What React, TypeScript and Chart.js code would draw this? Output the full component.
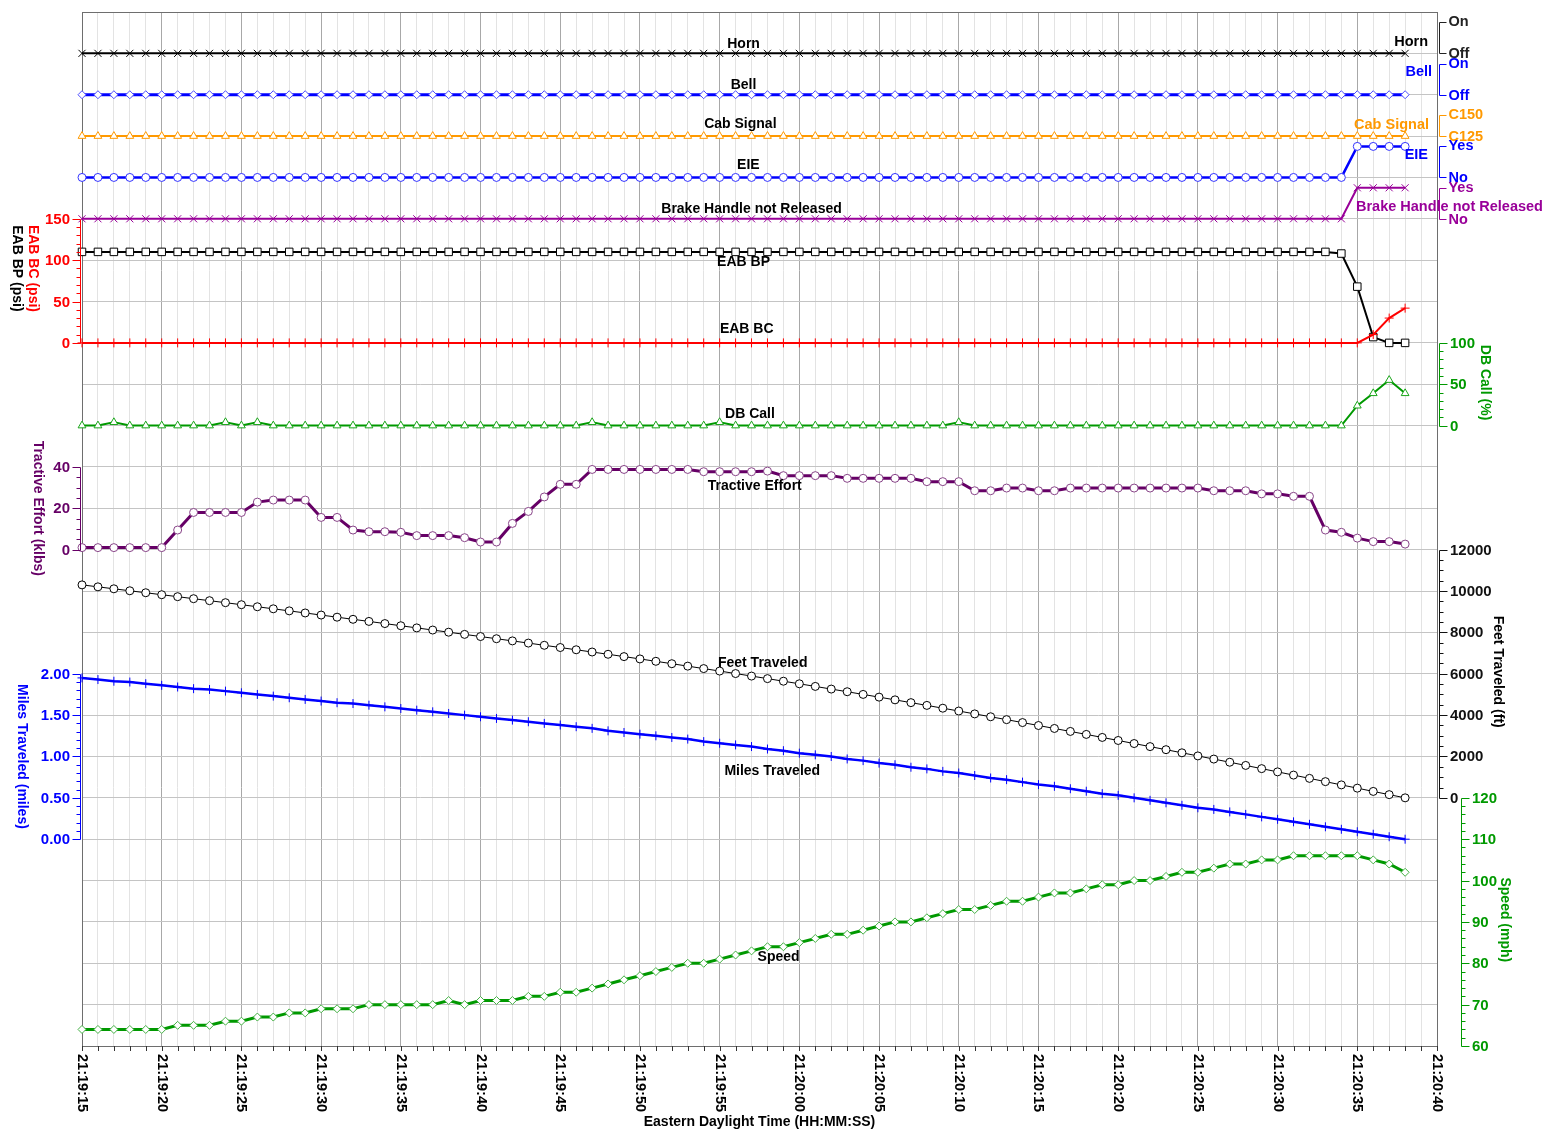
import React, { useEffect, useRef } from "react";
import { Chart, registerables } from "chart.js";

Chart.register(...registerables);

// ---------------- time axis ----------------
const START_TIME = "21:19:15";
const END_TIME = "21:20:40";
const xTickLabels = [
  "21:19:15", "21:19:20", "21:19:25", "21:19:30", "21:19:35", "21:19:40",
  "21:19:45", "21:19:50", "21:19:55", "21:20:00", "21:20:05", "21:20:10",
  "21:20:15", "21:20:20", "21:20:25", "21:20:30", "21:20:35", "21:20:40",
];
const toSec = (t: string) => { const [h, m, s] = t.split(":").map(Number); return h * 3600 + m * 60 + s; };
const pad = (n: number) => String(n).padStart(2, "0");
const fmt = (sec: number) => `${pad(Math.floor(sec / 3600))}:${pad(Math.floor((sec % 3600) / 60))}:${pad(sec % 60)}`;
const timeCategories: string[] = [];
for (let t = toSec(START_TIME); t <= toSec(END_TIME); t++) timeCategories.push(fmt(t));

// ---------------- series (one value per second from 21:19:15 to 21:20:38) ----------------
const horn = [
  0, 0, 0, 0, 0, 0, 0, 0, 0, 0,
  0, 0, 0, 0, 0, 0, 0, 0, 0, 0,
  0, 0, 0, 0, 0, 0, 0, 0, 0, 0,
  0, 0, 0, 0, 0, 0, 0, 0, 0, 0,
  0, 0, 0, 0, 0, 0, 0, 0, 0, 0,
  0, 0, 0, 0, 0, 0, 0, 0, 0, 0,
  0, 0, 0, 0, 0, 0, 0, 0, 0, 0,
  0, 0, 0, 0, 0, 0, 0, 0, 0, 0,
  0, 0, 0, 0,
];
const bell = [
  0, 0, 0, 0, 0, 0, 0, 0, 0, 0,
  0, 0, 0, 0, 0, 0, 0, 0, 0, 0,
  0, 0, 0, 0, 0, 0, 0, 0, 0, 0,
  0, 0, 0, 0, 0, 0, 0, 0, 0, 0,
  0, 0, 0, 0, 0, 0, 0, 0, 0, 0,
  0, 0, 0, 0, 0, 0, 0, 0, 0, 0,
  0, 0, 0, 0, 0, 0, 0, 0, 0, 0,
  0, 0, 0, 0, 0, 0, 0, 0, 0, 0,
  0, 0, 0, 0,
];
const cabSignal = [
  125, 125, 125, 125, 125, 125, 125, 125, 125, 125,
  125, 125, 125, 125, 125, 125, 125, 125, 125, 125,
  125, 125, 125, 125, 125, 125, 125, 125, 125, 125,
  125, 125, 125, 125, 125, 125, 125, 125, 125, 125,
  125, 125, 125, 125, 125, 125, 125, 125, 125, 125,
  125, 125, 125, 125, 125, 125, 125, 125, 125, 125,
  125, 125, 125, 125, 125, 125, 125, 125, 125, 125,
  125, 125, 125, 125, 125, 125, 125, 125, 125, 125,
  125, 125, 125, 125,
];
const eie = [
  0, 0, 0, 0, 0, 0, 0, 0, 0, 0,
  0, 0, 0, 0, 0, 0, 0, 0, 0, 0,
  0, 0, 0, 0, 0, 0, 0, 0, 0, 0,
  0, 0, 0, 0, 0, 0, 0, 0, 0, 0,
  0, 0, 0, 0, 0, 0, 0, 0, 0, 0,
  0, 0, 0, 0, 0, 0, 0, 0, 0, 0,
  0, 0, 0, 0, 0, 0, 0, 0, 0, 0,
  0, 0, 0, 0, 0, 0, 0, 0, 0, 0,
  1, 1, 1, 1,
];
const brakeHandle = [
  0, 0, 0, 0, 0, 0, 0, 0, 0, 0,
  0, 0, 0, 0, 0, 0, 0, 0, 0, 0,
  0, 0, 0, 0, 0, 0, 0, 0, 0, 0,
  0, 0, 0, 0, 0, 0, 0, 0, 0, 0,
  0, 0, 0, 0, 0, 0, 0, 0, 0, 0,
  0, 0, 0, 0, 0, 0, 0, 0, 0, 0,
  0, 0, 0, 0, 0, 0, 0, 0, 0, 0,
  0, 0, 0, 0, 0, 0, 0, 0, 0, 0,
  1, 1, 1, 1,
];
const eabBP = [
  110, 110, 110, 110, 110, 110, 110, 110, 110, 110,
  110, 110, 110, 110, 110, 110, 110, 110, 110, 110,
  110, 110, 110, 110, 110, 110, 110, 110, 110, 110,
  110, 110, 110, 110, 110, 110, 110, 110, 110, 110,
  110, 110, 110, 110, 110, 110, 110, 110, 110, 110,
  110, 110, 110, 110, 110, 110, 110, 110, 110, 110,
  110, 110, 110, 110, 110, 110, 110, 110, 110, 110,
  110, 110, 110, 110, 110, 110, 110, 110, 110, 108,
  68, 7, 0, 0,
];
const eabBC = [
  0, 0, 0, 0, 0, 0, 0, 0, 0, 0,
  0, 0, 0, 0, 0, 0, 0, 0, 0, 0,
  0, 0, 0, 0, 0, 0, 0, 0, 0, 0,
  0, 0, 0, 0, 0, 0, 0, 0, 0, 0,
  0, 0, 0, 0, 0, 0, 0, 0, 0, 0,
  0, 0, 0, 0, 0, 0, 0, 0, 0, 0,
  0, 0, 0, 0, 0, 0, 0, 0, 0, 0,
  0, 0, 0, 0, 0, 0, 0, 0, 0, 0,
  0, 10, 30, 42,
];
const dbCall = [
  0, 0, 4, 0, 0, 0, 0, 0, 0, 4,
  0, 4, 0, 0, 0, 0, 0, 0, 0, 0,
  0, 0, 0, 0, 0, 0, 0, 0, 0, 0,
  0, 0, 4, 0, 0, 0, 0, 0, 0, 0,
  4, 0, 0, 0, 0, 0, 0, 0, 0, 0,
  0, 0, 0, 0, 0, 4, 0, 0, 0, 0,
  0, 0, 0, 0, 0, 0, 0, 0, 0, 0,
  0, 0, 0, 0, 0, 0, 0, 0, 0, 0,
  24, 39, 55, 39,
];
const tractiveEffort = [
  1, 1, 1, 1, 1, 1, 9.5, 18, 18, 18,
  18, 23, 24, 24, 24, 15.6, 15.6, 9.5, 8.7, 8.7,
  8.4, 6.8, 6.8, 6.8, 5.8, 3.7, 3.7, 12.7, 18.5, 25.5,
  31.6, 31.6, 38.8, 38.8, 38.8, 38.8, 38.8, 38.8, 38.8, 37.7,
  37.7, 37.7, 37.7, 38, 35.8, 35.8, 35.8, 35.8, 34.5, 34.5,
  34.5, 34.5, 34.5, 32.9, 32.9, 32.9, 28.5, 28.5, 29.8, 29.8,
  28.5, 28.5, 29.8, 29.8, 29.8, 29.8, 29.8, 29.8, 29.8, 29.8,
  29.8, 28.5, 28.5, 28.5, 27, 27, 25.8, 25.8, 9.5, 8.4,
  5.6, 3.9, 3.9, 2.7,
];
const feetTraveled = [
  10298, 10203, 10108, 10013, 9918, 9822, 9727, 9630, 9534, 9437,
  9339, 9240, 9141, 9041, 8940, 8839, 8736, 8633, 8531, 8427,
  8322, 8218, 8114, 8010, 7904, 7800, 7694, 7589, 7483, 7376,
  7269, 7160, 7052, 6942, 6830, 6717, 6602, 6486, 6369, 6250,
  6131, 6010, 5888, 5765, 5640, 5515, 5388, 5260, 5131, 5001,
  4870, 4738, 4604, 4470, 4335, 4198, 4059, 3921, 3781, 3640,
  3498, 3355, 3211, 3067, 2921, 2774, 2626, 2478, 2329, 2178,
  2027, 1875, 1722, 1567, 1412, 1256, 1100, 942, 784, 626,
  469, 311, 155, 0,
];
const milesTraveled = [
  1.95, 1.93, 1.91, 1.90, 1.88, 1.86, 1.84, 1.82, 1.81, 1.79,
  1.77, 1.75, 1.73, 1.71, 1.69, 1.67, 1.65, 1.64, 1.62, 1.60,
  1.58, 1.56, 1.54, 1.52, 1.50, 1.48, 1.46, 1.44, 1.42, 1.40,
  1.38, 1.36, 1.34, 1.31, 1.29, 1.27, 1.25, 1.23, 1.21, 1.18,
  1.16, 1.14, 1.12, 1.09, 1.07, 1.04, 1.02, 1.00, 0.97, 0.95,
  0.92, 0.90, 0.87, 0.85, 0.82, 0.80, 0.77, 0.74, 0.72, 0.69,
  0.66, 0.64, 0.61, 0.58, 0.55, 0.53, 0.50, 0.47, 0.44, 0.41,
  0.38, 0.36, 0.33, 0.30, 0.27, 0.24, 0.21, 0.18, 0.15, 0.12,
  0.09, 0.06, 0.03, 0.00,
];
const speed = [
  64, 64, 64, 64, 64, 64, 65, 65, 65, 66,
  66, 67, 67, 68, 68, 69, 69, 69, 70, 70,
  70, 70, 70, 71, 70, 71, 71, 71, 72, 72,
  73, 73, 74, 75, 76, 77, 78, 79, 80, 80,
  81, 82, 83, 84, 84, 85, 86, 87, 87, 88,
  89, 90, 90, 91, 92, 93, 93, 94, 95, 95,
  96, 97, 97, 98, 99, 99, 100, 100, 101, 102,
  102, 103, 104, 104, 105, 105, 106, 106, 106, 106,
  106, 105, 104, 102,
];

// ---------------- styling ----------------
const FONT = '"Liberation Sans", Arial, Helvetica, sans-serif';
const BLACK = "#000000";
const BLUE = "#0000ff";
const ORANGE = "#ff9900";
const PURPLE = "#990099";
const RED = "#ff0000";
const GREEN = "#009900";
const DPURPLE = "#660066";

// the plot is split into 25 equal grid rows; each series lives in its own band
const GRID_ROWS = 25;
function band(vTop: number, rowTop: number, vBottom: number, rowBottom: number) {
  const perRow = (vBottom - vTop) / (rowBottom - rowTop);
  return { min: vTop + perRow * (GRID_ROWS - rowTop), max: vTop - perRow * rowTop };
}

const hiddenAxis = (r: { min: number; max: number }) => ({ type: "linear", display: false, min: r.min, max: r.max });

function ds(label: string, data: number[], yAxisID: string, color: string, o: any) {
  return {
    label, data, yAxisID,
    borderColor: color,
    backgroundColor: color,
    borderWidth: o.lw,
    pointStyle: o.ps,
    pointRadius: o.pr,
    pointBorderColor: o.pc || color,
    pointBackgroundColor: o.fill ? "#ffffff" : (o.pc || color),
    pointBorderWidth: o.pbw || 1,
    tension: 0,
    clip: false,
  };
}

const numAxes = [
  { scale: "yEab", side: "left", dx: -1.5, color: RED, from: 0, to: 150, major: 50, minor: 10, dec: 0 },
  { scale: "yTe", side: "left", dx: -1.5, color: DPURPLE, from: 0, to: 40, major: 20, minor: 5, dec: 0 },
  { scale: "yMiles", side: "left", dx: -1.5, color: BLUE, from: 0, to: 2, major: 0.5, minor: 0.1, dec: 2 },
  { scale: "yDb", side: "right", dx: 2.5, color: GREEN, from: 0, to: 100, major: 50, minor: 10, dec: 0 },
  { scale: "yFeet", side: "right", dx: 2.5, color: "#111111", from: 0, to: 12000, major: 2000, minor: 500, dec: 0 },
  { scale: "ySpeed", side: "right", dx: 24.5, color: GREEN, from: 60, to: 120, major: 10, minor: 2, dec: 0 },
];
const stateAxes = [
  { scale: "yHorn", color: "#222222", hi: 1, lo: 0, hiText: "On", loText: "Off" },
  { scale: "yBell", color: BLUE, hi: 1, lo: 0, hiText: "On", loText: "Off" },
  { scale: "yCab", color: ORANGE, hi: 150, lo: 125, hiText: "C150", loText: "C125" },
  { scale: "yEie", color: BLUE, hi: 1, lo: 0, hiText: "Yes", loText: "No" },
  { scale: "yBrake", color: PURPLE, hi: 1, lo: 0, hiText: "Yes", loText: "No" },
];
const axisTitles = [
  { text: "EAB BC (psi)", color: RED, side: "left", dx: -49, scale: "yEab", at: 90 },
  { text: "EAB BP (psi)", color: BLACK, side: "left", dx: -65, scale: "yEab", at: 90 },
  { text: "Tractive Effort (klbs)", color: DPURPLE, side: "left", dx: -44, scale: "yTe", at: 20 },
  { text: "Miles Traveled (miles)", color: BLUE, side: "left", dx: -60, scale: "yMiles", at: 1 },
  { text: "DB Call (%)", color: GREEN, side: "right", dx: 48, scale: "yDb", at: 52 },
  { text: "Feet Traveled (ft)", color: BLACK, side: "right", dx: 61, scale: "yFeet", at: 6100 },
  { text: "Speed (mph)", color: GREEN, side: "right", dx: 68, scale: "ySpeed", at: 90.5 },
];
const seriesLabels = [
  { text: "Horn", scale: "yHorn", at: 41.5, value: 0, dy: -9 },
  { text: "Bell", scale: "yBell", at: 41.5, value: 0, dy: -10 },
  { text: "Cab Signal", scale: "yCab", at: 41.3, value: 125, dy: -11.5 },
  { text: "EIE", scale: "yEie", at: 41.8, value: 0, dy: -12 },
  { text: "Brake Handle not Released", scale: "yBrake", at: 42, value: 0, dy: -9.5 },
  { text: "EAB BP", scale: "yEab", at: 41.5, value: 110, dy: 10 },
  { text: "EAB BC", scale: "yEab", at: 41.7, value: 0, dy: -14 },
  { text: "DB Call", scale: "yDb", at: 41.9, value: 0, dy: -11 },
  { text: "Tractive Effort", scale: "yTe", at: 42.2, value: 37.7, dy: 14 },
  { text: "Feet Traveled", scale: "yFeet", at: 42.7, value: 5800, dy: -15 },
  { text: "Miles Traveled", scale: "yMiles", at: 43.3, value: 1.08, dy: 21 },
  { text: "Speed", scale: "ySpeed", at: 43.7, value: 84, dy: 10 },
];
const endLabels = [
  { text: "Horn", color: BLACK, scale: "yHorn", value: 0, dy: -11, dxFromRight: -9, align: "right" },
  { text: "Bell", color: BLUE, scale: "yBell", value: 0, dy: -23, dxFromRight: -5, align: "right" },
  { text: "Cab Signal", color: ORANGE, scale: "yCab", value: 125, dy: -11, dxFromRight: -8, align: "right" },
  { text: "EIE", color: BLUE, scale: "yEie", value: 0, dy: -22, dxFromRight: -9, align: "right" },
  { text: "Brake Handle not Released", color: PURPLE, scale: "yBrake", value: 0, dy: -12, dxFromRight: -81, align: "left" },
];

const overlayPlugin = {
  id: "overlay",
  beforeDatasetsDraw(chart: any) {
    const { ctx, chartArea: ca } = chart;
    ctx.save();
    ctx.strokeStyle = "#6e6e6e";
    ctx.lineWidth = 1;
    ctx.strokeRect(ca.left + 0.5, ca.top + 0.5, ca.right - ca.left, ca.bottom - ca.top);
    ctx.restore();
  },
  afterDatasetsDraw(chart: any) {
    const { ctx, scales } = chart;
    ctx.save();
    ctx.font = `bold 14px ${FONT}`;
    ctx.fillStyle = BLACK;
    ctx.textAlign = "center";
    ctx.textBaseline = "middle";
    for (const l of seriesLabels) {
      const x = scales.x.getPixelForValue(l.at);
      const y = scales[l.scale].getPixelForValue(l.value) + l.dy;
      ctx.fillText(l.text, x, y);
    }
    ctx.restore();
  },
  afterDraw(chart: any) {
    const { ctx, chartArea: ca, scales } = chart;
    ctx.save();
    // x axis ticks + labels
    ctx.strokeStyle = "#333333";
    ctx.lineWidth = 1;
    for (let i = 0; i < timeCategories.length; i++) {
      const x = Math.round(scales.x.getPixelForValue(i)) + 0.5;
      ctx.beginPath();
      ctx.moveTo(x, ca.bottom);
      ctx.lineTo(x, ca.bottom + 5);
      ctx.stroke();
    }
    ctx.fillStyle = BLACK;
    ctx.font = `bold 14.5px ${FONT}`;
    for (const lab of xTickLabels) {
      const idx = timeCategories.indexOf(lab);
      const x = scales.x.getPixelForValue(idx);
      ctx.save();
      ctx.translate(x, ca.bottom + 8);
      ctx.rotate(Math.PI / 2);
      ctx.textAlign = "left";
      ctx.textBaseline = "middle";
      ctx.fillText(lab, 0, 0);
      ctx.restore();
    }
    ctx.font = `bold 14px ${FONT}`;
    ctx.textAlign = "center";
    ctx.textBaseline = "middle";
    ctx.fillText("Eastern Daylight Time (HH:MM:SS)", (ca.left + ca.right) / 2, ca.bottom + 76);

    // numeric side axes
    for (const a of numAxes) {
      const sc = scales[a.scale];
      const ax = (a.side === "left" ? ca.left : ca.right) + a.dx;
      const dir = a.side === "left" ? -1 : 1;
      ctx.strokeStyle = a.color;
      ctx.fillStyle = a.color;
      ctx.lineWidth = 1;
      ctx.beginPath();
      ctx.moveTo(ax, Math.round(sc.getPixelForValue(a.from)) + 0.5);
      ctx.lineTo(ax, Math.round(sc.getPixelForValue(a.to)) + 0.5);
      ctx.stroke();
      const n = Math.round((a.to - a.from) / a.minor);
      const perMajor = Math.round(a.major / a.minor);
      ctx.font = `bold 15px ${FONT}`;
      ctx.textAlign = a.side === "left" ? "right" : "left";
      ctx.textBaseline = "middle";
      for (let k = 0; k <= n; k++) {
        const v = a.from + k * a.minor;
        const y = Math.round(sc.getPixelForValue(v)) + 0.5;
        const major = k % perMajor === 0;
        const len = major ? 8 : 4;
        ctx.beginPath();
        ctx.moveTo(ax, y);
        ctx.lineTo(ax + dir * len, y);
        ctx.stroke();
        if (major) ctx.fillText(v.toFixed(a.dec), ax + dir * 10.5, y);
      }
    }
    // state brackets
    for (const a of stateAxes) {
      const sc = scales[a.scale];
      const ax = ca.right + 2.5;
      const yh = Math.round(sc.getPixelForValue(a.hi)) + 0.5;
      const yl = Math.round(sc.getPixelForValue(a.lo)) + 0.5;
      ctx.strokeStyle = a.color;
      ctx.fillStyle = a.color;
      ctx.lineWidth = 1;
      ctx.beginPath();
      ctx.moveTo(ax + 7, yh);
      ctx.lineTo(ax, yh);
      ctx.lineTo(ax, yl);
      ctx.lineTo(ax + 7, yl);
      ctx.stroke();
      ctx.font = `bold 14.5px ${FONT}`;
      ctx.textAlign = "left";
      ctx.textBaseline = "middle";
      ctx.fillText(a.hiText, ax + 9, yh - 1);
      ctx.fillText(a.loText, ax + 9, yl);
    }
    // axis titles (rotated, reading top to bottom)
    ctx.font = `bold 14px ${FONT}`;
    for (const t of axisTitles) {
      const x = (t.side === "left" ? ca.left : ca.right) + t.dx;
      const y = scales[t.scale].getPixelForValue(t.at);
      ctx.save();
      ctx.translate(x, y);
      ctx.rotate(Math.PI / 2);
      ctx.fillStyle = t.color;
      ctx.textAlign = "center";
      ctx.textBaseline = "middle";
      ctx.fillText(t.text, 0, 0);
      ctx.restore();
    }
    // labels at the right end of the state traces
    ctx.font = `bold 14.5px ${FONT}`;
    ctx.textBaseline = "middle";
    for (const l of endLabels) {
      ctx.fillStyle = l.color;
      ctx.textAlign = l.align as CanvasTextAlign;
      ctx.fillText(l.text, ca.right + l.dxFromRight, scales[l.scale].getPixelForValue(l.value) + l.dy);
    }
    ctx.restore();
  },
};

export default function App() {
  const ref = useRef<HTMLCanvasElement>(null);
  useEffect(() => {
    const canvas = ref.current;
    if (!canvas) return;
    const chart = new Chart(canvas, {
      type: "line",
      data: {
        labels: timeCategories,
        datasets: [
          ds("Horn", horn, "yHorn", BLACK, { lw: 2, ps: "crossRot", pr: 5 }),
          ds("Bell", bell, "yBell", BLUE, { lw: 3, ps: "rectRot", pr: 4, pc: "#4d4dff", fill: true }),
          ds("Cab Signal", cabSignal, "yCab", ORANGE, { lw: 2, ps: "triangle", pr: 4.5, fill: true }),
          ds("EIE", eie, "yEie", BLUE, { lw: 2.5, ps: "circle", pr: 4, pc: "#3333ff", fill: true }),
          ds("Brake Handle not Released", brakeHandle, "yBrake", PURPLE, { lw: 2, ps: "crossRot", pr: 5 }),
          ds("EAB BC", eabBC, "yEab", RED, { lw: 2, ps: "cross", pr: 4.5 }),
          ds("EAB BP", eabBP, "yEab", BLACK, { lw: 2, ps: "rect", pr: 5.3, fill: true }),
          ds("DB Call", dbCall, "yDb", GREEN, { lw: 2, ps: "triangle", pr: 4.5, pc: "#1aa51a", fill: true }),
          ds("Tractive Effort", tractiveEffort, "yTe", DPURPLE, { lw: 3, ps: "circle", pr: 4, pc: "#884488", fill: true }),
          ds("Feet Traveled", feetTraveled, "yFeet", BLACK, { lw: 1, ps: "circle", pr: 4, fill: true }),
          ds("Miles Traveled", milesTraveled, "yMiles", BLUE, { lw: 2.5, ps: "cross", pr: 4.5 }),
          ds("Speed", speed, "ySpeed", GREEN, { lw: 3, ps: "rectRot", pr: 4, pc: "#44b044", fill: true }),
        ],
      },
      options: {
        animation: false,
        responsive: false,
        devicePixelRatio: 1,
        events: [],
        layout: { padding: { left: 82, top: 12, right: 108, bottom: 85 } },
        plugins: { legend: { display: false }, tooltip: { enabled: false } },
        scales: {
          x: {
            type: "category",
            offset: false,
            border: { display: false },
            ticks: { display: false, autoSkip: false },
            grid: {
              drawTicks: false,
              lineWidth: 1,
              color: (c: any) => (c.index % 5 === 0 ? "#a8a8a8" : "#e3e3e3"),
            },
          },
          yg: {
            type: "linear",
            position: "left",
            min: 0,
            max: GRID_ROWS,
            reverse: true,
            border: { display: false },
            ticks: { display: false, stepSize: 1 },
            grid: { drawTicks: false, color: "#c4c4c4", lineWidth: 1 },
          },
          yHorn: hiddenAxis(band(1, 0.25, 0, 1)),
          yBell: hiddenAxis(band(1, 1.25, 0, 2)),
          yCab: hiddenAxis(band(150, 2.5, 125, 3)),
          yEie: hiddenAxis(band(1, 3.25, 0, 4)),
          yBrake: hiddenAxis(band(1, 4.25, 0, 5)),
          yEab: hiddenAxis(band(150, 5, 0, 8)),
          yDb: hiddenAxis(band(100, 8, 0, 10)),
          yTe: hiddenAxis(band(40, 11, 0, 13)),
          yFeet: hiddenAxis(band(12000, 13, 0, 19)),
          yMiles: hiddenAxis(band(2, 16, 0, 20)),
          ySpeed: hiddenAxis(band(120, 19, 60, 25)),
        } as any,
      },
      plugins: [overlayPlugin],
    } as any);
    return () => chart.destroy();
  }, []);
  return (
    <div style={{ position: "absolute", left: 0, top: 0, width: 1545, height: 1131, background: "#ffffff" }}>
      <canvas ref={ref} width={1545} height={1131} style={{ display: "block", width: 1545, height: 1131 }} />
    </div>
  );
}
